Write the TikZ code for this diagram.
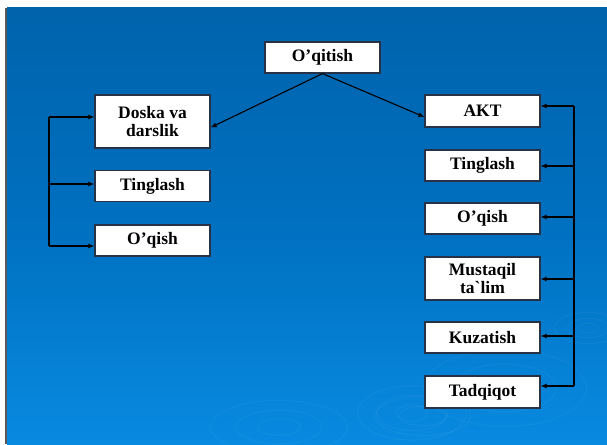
\documentclass[tikz,border=0pt]{standalone}
\usepackage{fontspec}
\setmainfont{Liberation Serif}[Ligatures=TeXOff]
\usetikzlibrary{arrows.meta}
\definecolor{bgtop}{RGB}{0,99,172}
\definecolor{bgmid}{RGB}{0,112,192}
\definecolor{bgbot}{RGB}{8,138,224}
\definecolor{boxline}{RGB}{40,50,70}
\definecolor{ripple}{RGB}{120,190,240}
\begin{document}
\begin{tikzpicture}[x=1pt,y=-1pt,
  box/.style={draw=boxline,line width=1.2pt,fill=white,minimum width=115pt,
    inner sep=0pt,align=center,font=\fontsize{17.5}{18}\selectfont\bfseries},
  conn/.style={draw=black,line width=1.1pt},
  arr/.style={conn,-{Latex[length=6pt,width=5pt]}},
  rip/.style={draw=ripple,draw opacity=0.08,line width=1.2pt}]
\useasboundingbox (0,0) rectangle (607,444);
\fill[white] (0,0) rectangle (607,444);
\shade[top color=bgtop,bottom color=bgbot,middle color=bgmid] (7,8) rectangle (607,444);
\draw[gray!70!black,line width=1.5pt] (6,8) -- (6,444);
% ripples
\foreach \r in {12,24,38} \draw[rip] (279,427) ellipse ({\r*1.8} and {\r*0.7});
\foreach \r in {10,22,34} \draw[rip] (412,413) ellipse ({\r*1.6} and {\r*0.8});
\foreach \r in {30,48} \draw[rip] (505,388) ellipse ({\r*1.7} and {\r*0.8});
\foreach \r in {8,16,26} \draw[rip] (588,328) ellipse ({\r*1.3} and {\r*0.6});
\foreach \r in {14,28} \draw[rip] (423,416) ellipse ({\r*1.7} and {\r*0.7});
% nodes
\node[box,minimum height=31pt] (oq) at (322.5,57.5) {O’qitish};
\node[box,minimum height=53pt] (doska) at (152.5,121.5) {Doska va\\darslik};
\node[box,minimum height=31pt] (tl) at (152.5,186) {Tinglash};
\node[box,minimum height=31pt] (ol) at (152.5,240.5) {O’qish};
\node[box,minimum height=32pt] (akt) at (482.5,111) {AKT};
\node[box,minimum height=31pt] (tr) at (482.5,165.5) {Tinglash};
\node[box,minimum height=31pt] (orr) at (482.5,218.5) {O’qish};
\node[box,minimum height=43pt] (mus) at (482.5,278.5) {Mustaqil\\ta`lim};
\node[box,minimum height=31pt] (kuz) at (482.5,337.5) {Kuzatish};
\node[box,minimum height=32pt] (tad) at (482.5,392) {Tadqiqot};
% top connectors
\draw[arr] (oq.south) -- ([yshift=-6pt]doska.east);
\draw[arr] (oq.south) -- ([yshift=-6pt]akt.west);
% left bracket
\coordinate (L1) at (49,117);
\coordinate (L2) at (49,184);
\coordinate (L3) at (49,246);
\draw[conn] (L1) -- (L3);
\draw[arr] (L1) -- (L1 -| doska.west);
\draw[arr] (L2) -- (L2 -| tl.west);
\draw[arr] (L3) -- (L3 -| ol.west);
% right bracket
\coordinate (R1) at (574,106);
\coordinate (R2) at (574,166);
\coordinate (R3) at (574,217);
\coordinate (R4) at (574,279);
\coordinate (R5) at (574,336);
\coordinate (R6) at (574,386);
\draw[conn] (R1) -- (R6);
\draw[arr] (R1) -- (R1 -| akt.east);
\draw[arr] (R2) -- (R2 -| tr.east);
\draw[arr] (R3) -- (R3 -| orr.east);
\draw[arr] (R4) -- (R4 -| mus.east);
\draw[arr] (R5) -- (R5 -| kuz.east);
\draw[arr] (R6) -- (R6 -| tad.east);
\end{tikzpicture}
\end{document}
